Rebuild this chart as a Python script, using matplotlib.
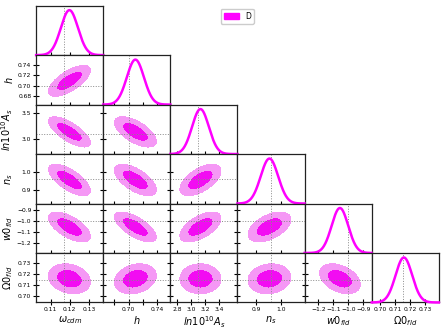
import numpy as np
import matplotlib
matplotlib.use('Agg')
import matplotlib.pyplot as plt
from matplotlib.patches import Patch

# parameters of the triangle plot
labels = [r'$\omega_{cdm}$', r'$h$', r'$ln10^{10}A_s$', r'$n_s$',
          r'$w0_{fld}$', r'$\Omega0_{fld}$']
means = [0.1198, 0.7095, 3.13, 0.954, -1.056, 0.7158]
sigmas = [0.0045, 0.012, 0.12, 0.035, 0.055, 0.0055]
fiducial = [0.1168, 0.700, 3.09, 0.960, -1.000, 0.7150]
lims = [(0.1023, 0.1376), (0.6645, 0.7585), (2.70, 3.66),
        (0.826, 1.095), (-1.29, -0.845), (0.6945, 0.739)]

corr = [[1.00, 0.68, -0.72, -0.68, -0.62, -0.20],
        [0.68, 1.00, -0.62, -0.62, -0.68, 0.22],
        [-0.72, -0.62, 1.00, 0.58, 0.58, 0.00],
        [-0.68, -0.62, 0.58, 1.00, 0.50, 0.10],
        [-0.62, -0.68, 0.58, 0.50, 1.00, -0.38],
        [-0.20, 0.22, 0.00, 0.10, -0.38, 1.00]]

xticks = [[0.11, 0.12, 0.13], [0.68, 0.70, 0.72, 0.74], [2.8, 3.0, 3.2, 3.4],
          [0.9, 1.0], [-1.2, -1.1, -1.0, -0.9], [0.70, 0.71, 0.72, 0.73]]
xticklabels = [['0.11', '0.12', '0.13'], ['', '0.70', '', '0.74'],
               ['2.8', '3.0', '3.2', '3.4'], ['0.9', '1.0'],
               ['\u22121.2', '\u22121.1', '\u22121.0', '\u22120.9'],
               ['0.70', '0.71', '0.72', '0.73']]
yticks = [[], [0.68, 0.70, 0.72, 0.74], [3.0, 3.5], [0.9, 1.0],
          [-1.2, -1.1, -1.0, -0.9], [0.70, 0.71, 0.72, 0.73]]
yticklabels = [[], ['0.68', '0.70', '0.72', '0.74'], ['3.0', '3.5'],
               ['0.9', '1.0'],
               ['\u22121.2', '\u22121.1', '\u22121.0', '\u22120.9'],
               ['0.70', '0.71', '0.72', '0.73']]

line_col = '#ff00ff'
inner_col = '#f20cf2'
outer_col = '#f598f5'
fid_col = '#888888'

n = len(labels)
fig, axes = plt.subplots(n, n, figsize=(4.46, 3.32), dpi=100)
fig.subplots_adjust(left=0.081, right=0.984, top=0.983, bottom=0.089,
                    wspace=0, hspace=0)

for i in range(n):
    for j in range(n):
        ax = axes[i, j]
        if j > i:
            ax.axis('off')
            continue
        ax.set_xlim(lims[j])
        if i == j:
            x = np.linspace(lims[j][0], lims[j][1], 300)
            y = np.exp(-0.5 * ((x - means[j]) / sigmas[j]) ** 2)
            ax.plot(x, y, color=line_col, lw=1.8, clip_on=False, zorder=3)
            ax.set_ylim(0, 1.1)
            ax.axvline(fiducial[j], color=fid_col, ls=':', lw=0.7)
            ax.set_yticks([])
        else:
            x = np.linspace(lims[j][0], lims[j][1], 200)
            y = np.linspace(lims[i][0], lims[i][1], 200)
            X, Y = np.meshgrid(x, y)
            r = corr[i][j]
            dx = (X - means[j]) / sigmas[j]
            dy = (Y - means[i]) / sigmas[i]
            chi2 = (dx ** 2 - 2 * r * dx * dy + dy ** 2) / (1 - r ** 2)
            ax.contourf(X, Y, chi2, levels=[0, 2.28, 5.99],
                        colors=[inner_col, outer_col])
            ax.set_ylim(lims[i])
            ax.axvline(fiducial[j], color=fid_col, ls=':', lw=0.7)
            ax.axhline(fiducial[i], color=fid_col, ls=':', lw=0.7)
            ax.set_yticks(yticks[i])
            if j == 0:
                ax.set_yticklabels(yticklabels[i])
            else:
                ax.set_yticklabels([])
        ax.set_xticks(xticks[j])
        if i == n - 1:
            ax.set_xticklabels(xticklabels[j])
            ax.set_xlabel(labels[j], fontsize=7)
            ax.xaxis.set_label_coords(0.5, -0.24)
        else:
            ax.set_xticklabels([])
        if j == 0 and i > 0:
            ax.set_ylabel(labels[i], fontsize=7)
            ax.yaxis.set_label_coords(-0.32, 0.5)
        ax.tick_params(direction='inout', length=4, width=0.8,
                       labelsize=4.3, pad=1.5)
        for s in ax.spines.values():
            s.set_linewidth(0.9)
            s.set_color('#222222')

handles = [Patch(facecolor=line_col, edgecolor=line_col, label='D')]
fig.legend(handles=handles, loc='upper center', bbox_to_anchor=(0.532, 0.985),
           fontsize=5.5, handlelength=2.0, handleheight=0.9, borderpad=0.4,
           handletextpad=0.8, framealpha=1, edgecolor='#cccccc')

fig.savefig('out.png', dpi=100)
